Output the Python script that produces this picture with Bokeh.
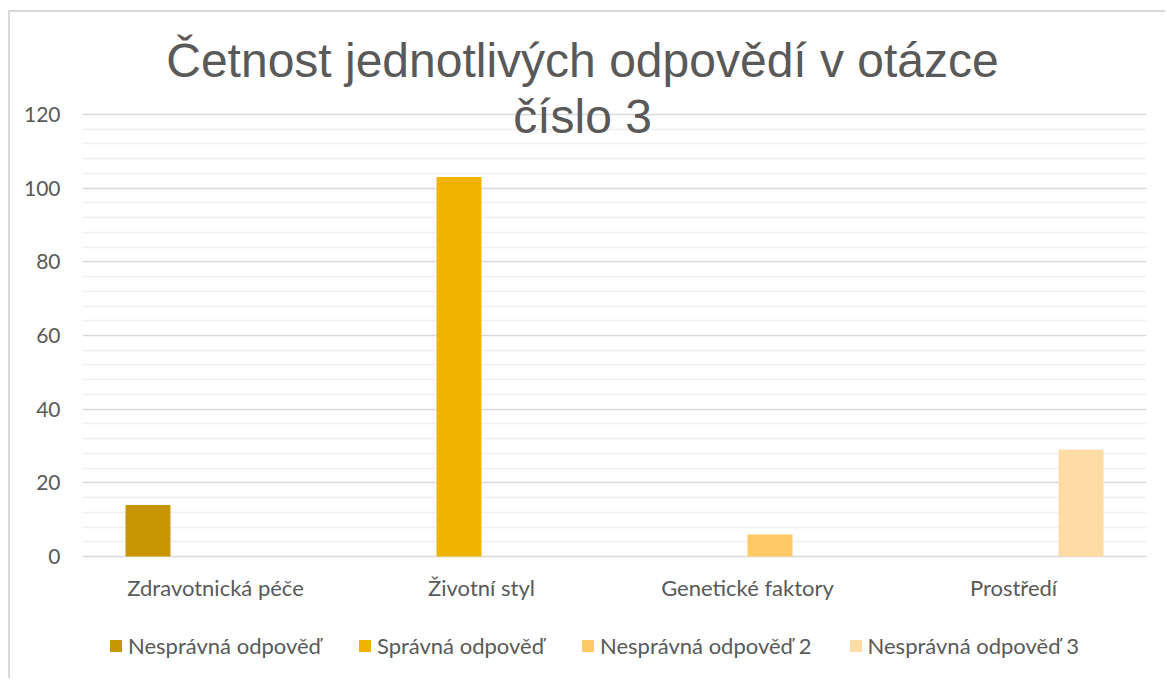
from bokeh.plotting import figure
from bokeh.models import FactorRange, Range1d, FixedTicker, Legend, LegendItem, Label, ColumnDataSource
from bokeh.transform import dodge
from bokeh.core.properties import value
from bokeh.embed import file_html
from bokeh.resources import INLINE

nan = float("nan")

categories = ["Zdravotnická péče", "Životní styl", "Genetické faktory", "Prostředí"]
series_names = ["Nesprávná odpověď", "Správná odpověď", "Nesprávná odpověď 2", "Nesprávná odpověď 3"]
nespravna = [14, nan, nan, nan]
spravna = [nan, 103, nan, nan]
nespravna2 = [nan, nan, 6, nan]
nespravna3 = [nan, nan, nan, 29]
colors = ["#C69500", "#F0B400", "#FFC966", "#FFDBA6"]
y_ticks = [0, 20, 40, 60, 80, 100, 120]
y_minor = [v for v in range(4, 120, 4) if v % 20]
title_lines = ["Četnost jednotlivých odpovědí v otázce", "číslo 3"]

TEXT = "#595959"
PXU = 442 / 120.0  # pixels per unit

# frame spans image y 20..676 ; value 0 at y=556, 120 at y=114
y_start = -(676 - 556) / PXU
y_end = 120 + (114 - 20) / PXU

p = figure(x_range=FactorRange(*categories), y_range=Range1d(y_start, y_end),
           width=1157, height=668, output_backend="svg", toolbar_location=None,
           min_border_left=72, min_border_right=21, min_border_top=8, min_border_bottom=4)
p.outline_line_color = None
p.styles = {"margin-left": "8px", "margin-top": "10px",
            "border-left": "2px solid #d9d9d9", "border-top": "2px solid #d9d9d9"}

src = ColumnDataSource(dict(cat=categories, s0=nespravna, s1=spravna, s2=nespravna2, s3=nespravna3))
offsets = [-0.2538, -0.0846, 0.0846, 0.2538]
renderers = []
for i, name in enumerate(series_names):
    r = p.vbar(x=dodge("cat", offsets[i], range=p.x_range), top=f"s{i}", bottom=0, width=0.169,
               source=src, fill_color=colors[i], line_color=None)
    renderers.append(r)

p.yaxis.ticker = FixedTicker(ticks=y_ticks, minor_ticks=y_minor)
p.ygrid.grid_line_color = "#d9d9d9"
p.ygrid.grid_line_width = 1.4
p.ygrid.minor_grid_line_color = "#f0f0f0"
p.ygrid.minor_grid_line_width = 1.4
p.xgrid.grid_line_color = None
p.xaxis.visible = False

ax = p.yaxis
ax.major_tick_line_color = None
ax.minor_tick_line_color = None
ax.major_tick_in = 0
ax.major_tick_out = 0
ax.minor_tick_in = 0
ax.minor_tick_out = 0
ax.axis_line_color = None
ax.major_label_text_font = "Lato"
ax.major_label_text_font_size = "21px"
ax.major_label_text_color = TEXT
ax.major_label_standoff = 22

# category labels below the bars
cat_y = [-(587 - 556) / PXU] * len(categories)
p.text(x=categories, y=cat_y, text=categories, text_align="center", text_baseline="middle",
       text_font=value("Lato"), text_font_size="22px", text_color=TEXT)

tx = (582 - 82) / 266.0
p.add_layout(Label(x=tx, y=(556 - 60) / PXU, text=title_lines[0], text_align="center",
                   text_baseline="alphabetic", text_font="Liberation Sans",
                   text_font_size="48px", text_color=TEXT))
p.add_layout(Label(x=tx, y=(556 - 116) / PXU, text=title_lines[1], text_align="center",
                   text_baseline="alphabetic", text_font="Liberation Sans",
                   text_font_size="48px", text_color=TEXT))

legend = Legend(items=[LegendItem(label=n, renderers=[r]) for n, r in zip(series_names, renderers)],
                orientation="horizontal", location=(26, 17), padding=0, margin=0,
                border_line_color=None, background_fill_alpha=0,
                glyph_width=15, glyph_height=15, label_standoff=5, spacing=36, label_height=20,
                label_text_font="Lato", label_text_font_size="22px", label_text_color=TEXT)
p.add_layout(legend)

open("out.html", "w").write(file_html(p, INLINE))
